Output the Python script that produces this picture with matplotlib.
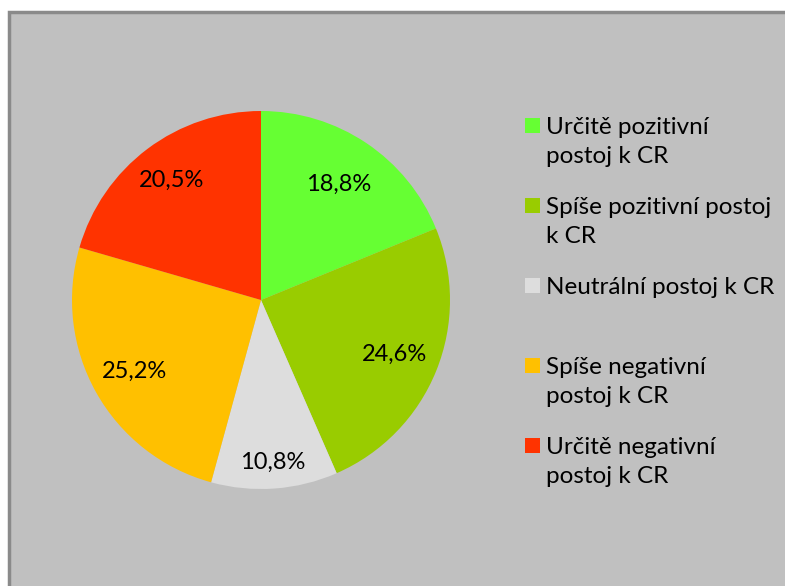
import numpy as np
import matplotlib
matplotlib.use('Agg')
import matplotlib.pyplot as plt
from matplotlib.patches import Rectangle

labels = ['Určitě pozitivní\npostoj k CR',
          'Spíše pozitivní postoj\nk CR',
          'Neutrální postoj k CR',
          'Spíše negativní\npostoj k CR',
          'Určitě negativní\npostoj k CR']
values = [18.8, 24.6, 10.8, 25.2, 20.5]
colors = ['#66FF33', '#99CC00', '#DDDDDD', '#FFC000', '#FF3300']

# how far out each percentage sits (Excel "best fit" look)
label_dist = [0.74, 0.76, 0.86, 0.77, 0.79]

plt.rcParams['font.family'] = ['Lato', 'DejaVu Sans']

W, H = 785, 586
fig = plt.figure(figsize=(W / 100, H / 100), dpi=100)

# gray chart area with a darker border on the top and left
fig.patches.append(Rectangle((9 / W, -0.1), 1, 1.1 - 12 / H, transform=fig.transFigure,
                             facecolor='#C0C0C0', edgecolor='#8A8A8A', linewidth=2.5,
                             zorder=-5))

# pie: centre (261, 300) px, radius 189 px
cx, cy, r = 261, 300, 189
ax = fig.add_axes([(cx - r) / W, (H - cy - r) / H, 2 * r / W, 2 * r / H])
wedges, _, autotexts = ax.pie(values, colors=colors, startangle=90, counterclock=False,
                              autopct='%1.1f', pctdistance=0.77,
                              wedgeprops=dict(linewidth=0), textprops=dict(fontsize=17))
for t, v, w, d in zip(autotexts, values, wedges, label_dist):
    t.set_text(('%.1f%%' % v).replace('.', ','))
    t.set_color('black')
    ang = np.deg2rad((w.theta1 + w.theta2) / 2)
    t.set_position((d * np.cos(ang), d * np.sin(ang)))
ax.set_xlim(-1, 1)
ax.set_ylim(-1, 1)
ax.set_aspect('equal')
ax.axis('off')

# legend, markers aligned to the first line of each entry
top = 118
for i, (lab, col) in enumerate(zip(labels, colors)):
    y = top + i * 80
    fig.patches.append(Rectangle((525 / W, 1 - (y + 15) / H), 15 / W, 15 / H,
                                 transform=fig.transFigure, facecolor=col, edgecolor='none'))
    fig.text(546 / W, 1 - (y - 1) / H, lab, fontsize=17.5, va='top', ha='left',
             linespacing=1.45)

fig.savefig('out.png', dpi=100)
